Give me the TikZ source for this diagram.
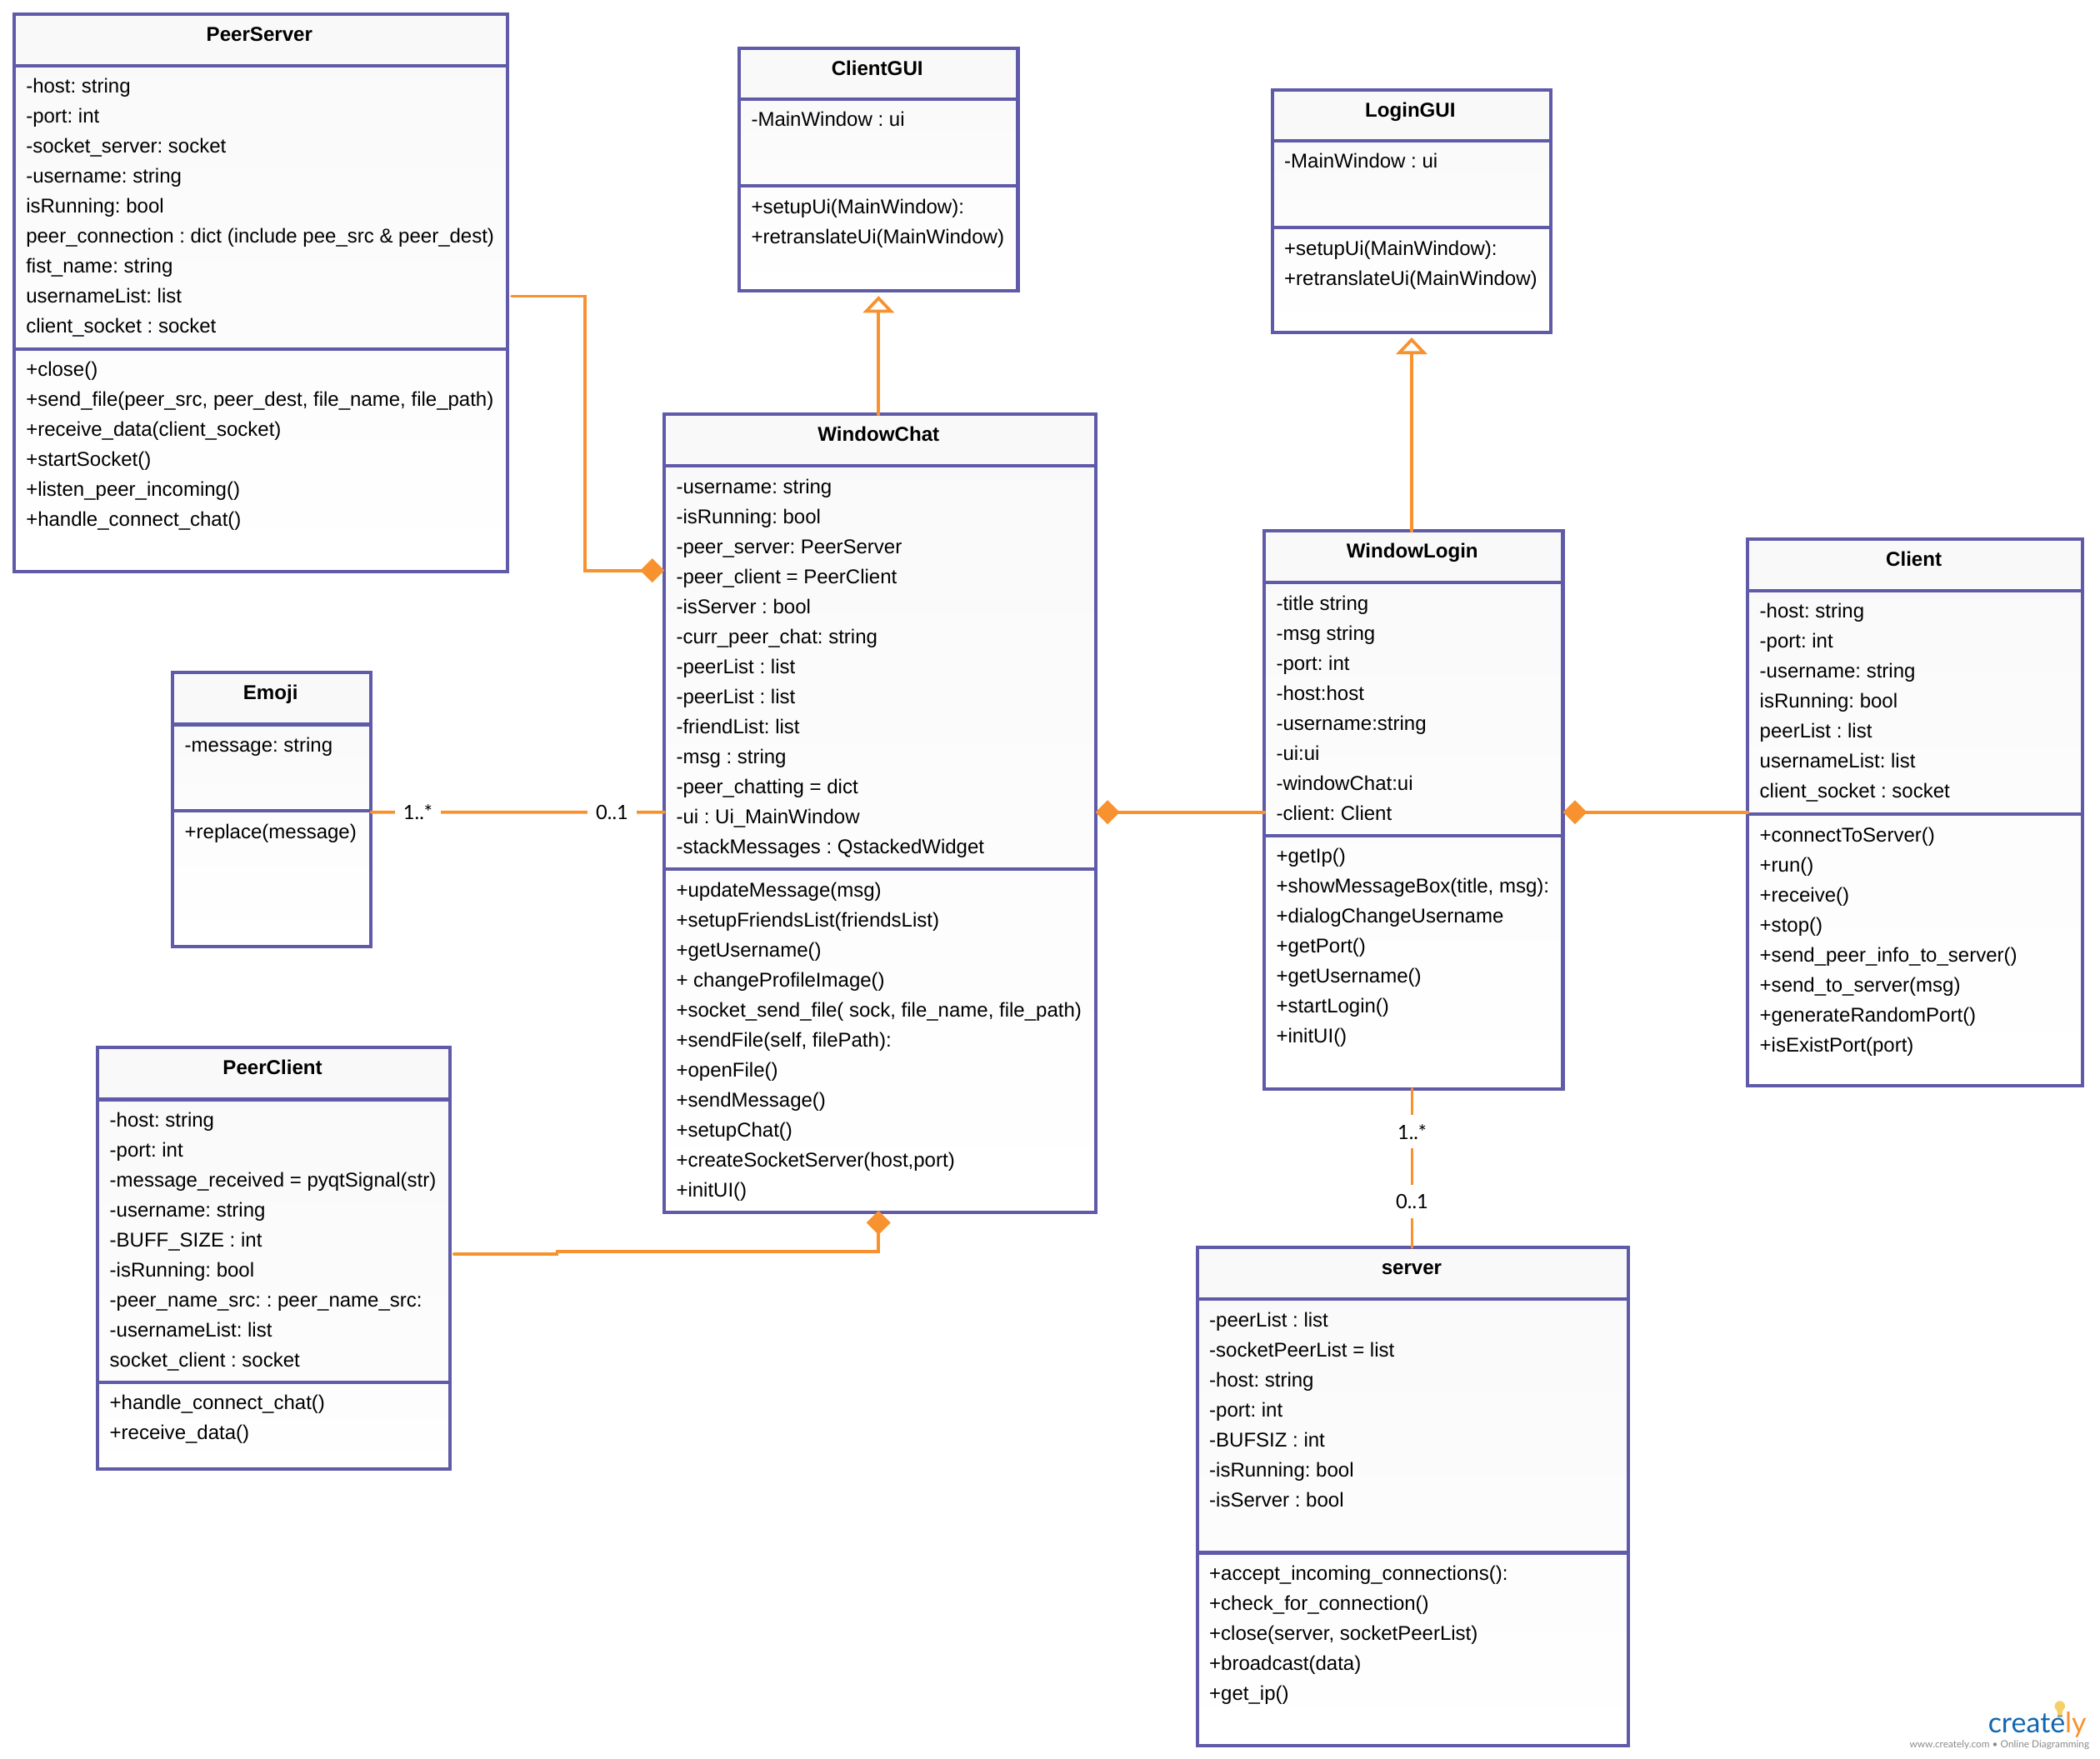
\documentclass[tikz,border=0pt]{standalone}
\usepackage{fontspec}
\setmainfont[Ligatures=NoCommon]{Liberation Sans}
\newfontfamily\labelfont{Lato}
\usetikzlibrary{fit,arrows.meta}
\definecolor{umlpurple}{HTML}{5F5BA8}
\definecolor{umlorange}{HTML}{F7922E}
\definecolor{logoblue}{HTML}{1166B0}
\definecolor{logogrey}{HTML}{8A8A8C}
\definecolor{bulb}{HTML}{F6D067}
\frenchspacing
\tikzset{
  x=0.8pt,y=-0.8pt,
  compart/.style={draw=umlpurple,line width=2.05pt,line join=miter,fit=#1,inner sep=0pt,outer sep=0pt},
  headfill/.style={fill=black!2.2},
  attrfill/.style={top color=black!2.2,bottom color=black!1},
  methfill/.style={top color=black!1,bottom color=white},
  classtitle/.style={font=\fontsize{12}{14}\selectfont\bfseries,inner sep=0pt,anchor=base},
  memberlines/.style={font=\fontsize{11.95}{17.92}\selectfont,align=left,inner sep=0pt,anchor=north west},
  link/.style={draw=umlorange,line width=1.85pt,line cap=round,line join=miter},
  composed/.style={link,-{Diamond[length=14.4pt,width=14.4pt,fill=umlorange,line width=0pt]}},
  generalized/.style={link,-{Triangle[open,length=10pt,width=18.5pt,fill=white,line width=1.85pt]}},
  multiplicity/.style={font=\labelfont\fontsize{11.8}{14}\selectfont,fill=white,inner sep=0pt},
}
% name, title, left, top, right, bottom, divider 1, divider 2
\newcommand{\umlclass}[8]{
  \coordinate (#1-a) at (#3,#4);
  \coordinate (#1-b) at (#5,#7);
  \coordinate (#1-c) at (#3,#7);
  \coordinate (#1-d) at (#5,#8);
  \coordinate (#1-e) at (#3,#8);
  \coordinate (#1-f) at (#5,#6);
  \node[compart={(#1-a)(#1-b)},headfill] (#1-head) {};
  \node[compart={(#1-c)(#1-d)},attrfill] (#1-attr) {};
  \node[compart={(#1-e)(#1-f)},methfill] (#1-meth) {};
  \node[fit={(#1-a)(#1-f)},inner sep=0pt,outer sep=0pt] (#1) {};
  \node[classtitle] (#1-title) at ([shift={(-1,20.2)}]#1-head.north) {#2};
}
\newcommand{\members}[2]{
  \node[memberlines] (#1-text) at ([shift={(8.7,9.5)}]#1.north west) {#2};
}
\begin{document}
\begin{tikzpicture}
\useasboundingbox (0,0) rectangle (1568,1312.9);

\umlclass{ps}{PeerServer}{10.5}{10.5}{379}{427}{49}{260.5}
\members{ps-attr}{-host: string\\-port: int\\-socket\_server: socket\\-username: string\\isRunning: bool\\peer\_connection : dict (include pee\_src \& peer\_dest)\\fist\_name: string\\usernameList: list\\client\_socket : socket}
\members{ps-meth}{+close()\\+send\_file(peer\_src, peer\_dest, file\_name, file\_path)\\+receive\_data(client\_socket)\\+startSocket()\\+listen\_peer\_incoming()\\+handle\_connect\_chat()}

\umlclass{cg}{ClientGUI}{552}{36}{760}{217}{74}{139}
\members{cg-attr}{-MainWindow : ui}
\members{cg-meth}{+setupUi(MainWindow):\\+retranslateUi(MainWindow)}

\umlclass{lg}{LoginGUI}{950}{67}{1158}{248}{105}{170}
\members{lg-attr}{-MainWindow : ui}
\members{lg-meth}{+setupUi(MainWindow):\\+retranslateUi(MainWindow)}

\umlclass{wc}{WindowChat}{496}{309.5}{818}{905.5}{348}{649}
\members{wc-attr}{-username: string\\-isRunning: bool\\-peer\_server: PeerServer\\-peer\_client = PeerClient\\-isServer : bool\\-curr\_peer\_chat: string\\-peerList : list\\-peerList : list\\-friendList: list\\-msg : string\\-peer\_chatting = dict\\-ui : Ui\_MainWindow\\-stackMessages : QstackedWidget}
\members{wc-meth}{+updateMessage(msg)\\+setupFriendsList(friendsList)\\+getUsername()\\+ changeProfileImage()\\+socket\_send\_file( sock, file\_name, file\_path)\\+sendFile(self, filePath):\\+openFile()\\+sendMessage()\\+setupChat()\\+createSocketServer(host,port)\\+initUI()}

\umlclass{wl}{WindowLogin}{944}{396.5}{1167}{813}{435}{624}
\members{wl-attr}{-title string\\-msg string\\-port: int\\-host:host\\-username:string\\-ui:ui\\-windowChat:ui\\-client: Client}
\members{wl-meth}{+getIp()\\+showMessageBox(title, msg):\\+dialogChangeUsername\\+getPort()\\+getUsername()\\+startLogin()\\+initUI()}

\umlclass{cl}{Client}{1305}{402.5}{1555}{810.5}{441}{608}
\members{cl-attr}{-host: string\\-port: int\\-username: string\\isRunning: bool\\peerList : list\\usernameList: list\\client\_socket : socket}
\members{cl-meth}{+connectToServer()\\+run()\\+receive()\\+stop()\\+send\_peer\_info\_to\_server()\\+send\_to\_server(msg)\\+generateRandomPort()\\+isExistPort(port)}

\umlclass{em}{Emoji}{129}{502}{277}{707}{541}{605.5}
\members{em-attr}{-message: string}
\members{em-meth}{+replace(message)}

\umlclass{pc}{PeerClient}{73}{782}{336}{1097}{821}{1032}
\members{pc-attr}{-host: string\\-port: int\\-message\_received = pyqtSignal(str)\\-username: string\\-BUFF\_SIZE : int\\-isRunning: bool\\-peer\_name\_src: : peer\_name\_src:\\-usernameList: list\\socket\_client : socket}
\members{pc-meth}{+handle\_connect\_chat()\\+receive\_data()}

\umlclass{sv}{server}{894}{931.5}{1216}{1303.5}{970}{1159.5}
\members{sv-attr}{-peerList : list\\-socketPeerList = list\\-host: string\\-port: int\\-BUFSIZ : int\\-isRunning: bool\\-isServer : bool}
\members{sv-meth}{+accept\_incoming\_connections():\\+check\_for\_connection()\\+close(server, socketPeerList)\\+broadcast(data)\\+get\_ip()}

% connectors
\draw[composed] ([shift={(3,2.5)}]ps.east) -| ([shift={(-59,-1)}]wc.west |- ps.south) -- ([shift={(0,-1)}]wc.west |- ps.south);
\draw[generalized] (wc.north -| cg.south) -- ([shift={(0,4)}]cg.south);
\draw[generalized] (wl.north -| lg.south) -- ([shift={(0,4)}]lg.south);
\draw[composed] ([yshift=-1.4pt]wl.west) -- ([yshift=-1.4pt]wl.west -| wc.east);
\draw[composed] (cl.west) -- (cl.west -| wl.east);
\draw[link] ([shift={(0,2)}]em.east) -- node[multiplicity,pos=.16,minimum width=27.2pt] (m1) {1..*} node[multiplicity,pos=.822,minimum width=29.6pt] (m2) {0..1} ([shift={(0,-1)}]wc.west);
\draw[link] ([xshift=-0.9pt]wl.south) -- node[multiplicity,pos=.271,minimum height=20pt] (m3) {1..*} node[multiplicity,pos=.712,minimum height=20pt] (m4) {0..1} ([xshift=-0.5pt]sv.north);
\draw[composed] ([shift={(3,-3)}]pc.east) -- ++(77,0) -- ++(0,-2) -| ([shift={(-1,-1.5)}]wc.south);

% logo
\fill[bulb] (1538,1274) circle[radius=3.9];
\fill[bulb] (1535.5,1276) -- (1540.5,1276) -- (1539.6,1280.5) -- (1536.4,1280.5) -- cycle;
\fill[gray!70] (1536.2,1280.5) rectangle (1539.8,1282.5);
\node[anchor=base west,inner sep=0pt,font=\labelfont\fontsize{16.9}{18}\selectfont] (logo) at (1484.2,1294) {\textcolor{logoblue}{create}\textcolor{umlorange}{ly}};
\node[anchor=west,inner sep=0pt,font=\labelfont\fontsize{5.9}{7}\selectfont,text=logogrey] (tag) at (1425.6,1303) {www.creately.com • Online Diagramming};
\end{tikzpicture}
\end{document}
